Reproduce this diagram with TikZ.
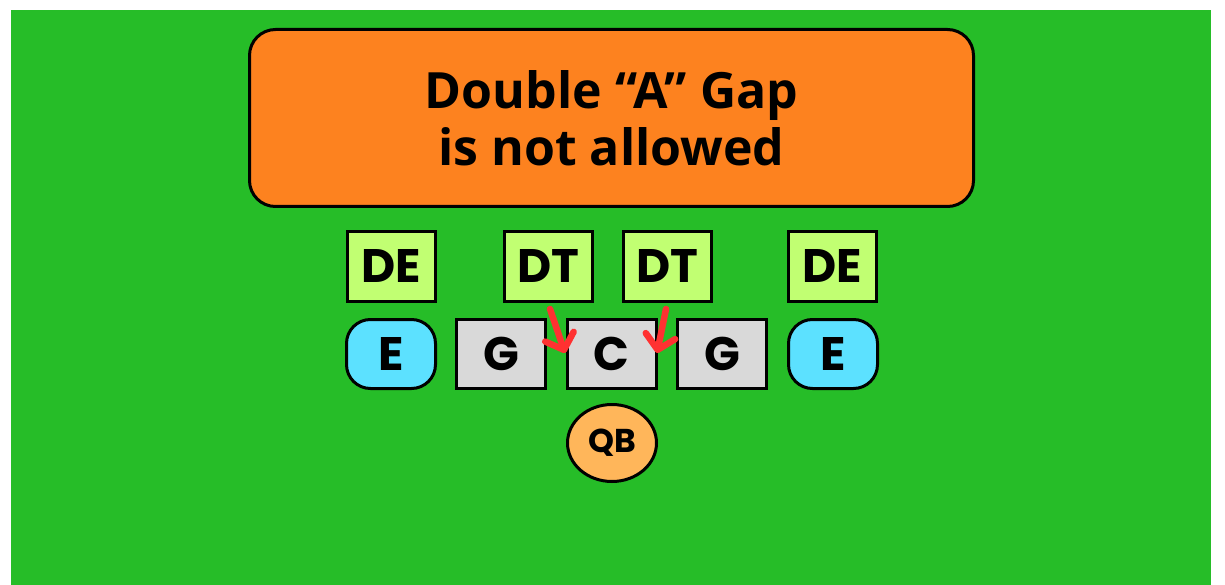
\documentclass[tikz,border=0pt]{standalone}
\usepackage{fontspec}
\setmainfont{Open Sans}
\newfontfamily\boxfont{Poppins}
\usetikzlibrary{arrows.meta,shapes.geometric}
\definecolor{field}{RGB}{38,189,40}
\definecolor{banner}{RGB}{253,130,31}
\definecolor{lime}{RGB}{193,255,114}
\definecolor{cyanE}{RGB}{92,225,255}
\definecolor{greyO}{RGB}{217,217,217}
\definecolor{qbfill}{RGB}{255,182,90}
\definecolor{redA}{RGB}{255,49,49}
\tikzset{
  base/.style={draw=black, line width=3pt, inner sep=0pt, font=\boxfont\bfseries\fontsize{47}{50}\selectfont},
  defbox/.style={base, fill=lime, minimum width=88pt, minimum height=70pt},
  endbox/.style={base, fill=cyanE, rounded corners=24pt, minimum width=89pt, minimum height=69pt},
  linebox/.style={base, fill=greyO, minimum width=89pt, minimum height=69pt},
  qbnode/.style={base, ellipse, fill=qbfill, minimum width=89pt, minimum height=77pt, font=\boxfont\bfseries\fontsize{33}{36}\selectfont},
  bannerbox/.style={draw=black, line width=3pt, fill=banner, rounded corners=26pt, minimum width=724pt, minimum height=177pt, align=center, font=\bfseries\fontsize{50}{57}\selectfont},
  gaparrow/.style={draw=redA, line width=6.5pt, line cap=round, -{Straight Barb[length=14pt,width=30pt,line width=6.5pt,round]}}
}
\begin{document}
\begin{tikzpicture}[x=1pt,y=-1pt]
\useasboundingbox (0,0) rectangle (1225,585);
\fill[white] (0,0) rectangle (1225,585);
\fill[field] (11,10) rectangle (1211,585);
\node[bannerbox] (title) at (611.5,118) {Double “A” Gap\\is not allowed};
\node[defbox] (de1) at (391.5,266.5) {DE};
\node[defbox] (dt1) at (548,266.5) {DT};
\node[defbox] (dt2) at (667,266.5) {DT};
\node[defbox] (de2) at (832,266.5) {DE};
\node[endbox] (e1) at (391,354) {E};
\node[linebox] (g1) at (501,354) {G};
\node[linebox] (c) at (611.5,354) {C};
\node[linebox] (g2) at (722,354) {G};
\node[endbox] (e2) at (833,354) {E};
\node[qbnode] (qb) at (612,443) {QB};
\coordinate (gapL) at (565,353);
\coordinate (gapR) at (657,353);
\draw[gaparrow] ([xshift=2pt,yshift=-6pt]dt1.south) -- (gapL);
\draw[gaparrow] ([xshift=-1pt,yshift=-6pt]dt2.south) -- (gapR);
\end{tikzpicture}
\end{document}
